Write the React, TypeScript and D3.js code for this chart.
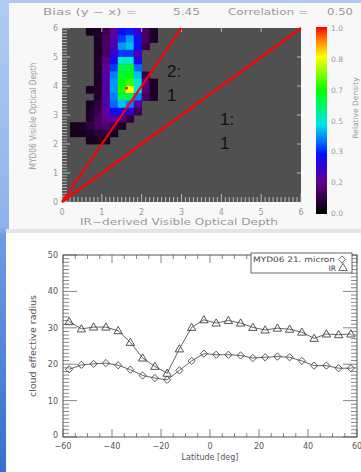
import React from "react";
import * as d3 from "d3";

// ---- top panel: relative density, MYD06 vs IR-derived optical depth ----
// rows run from y = 6 downwards in 0.25 steps, columns from x = 0 in 0.2 steps
const densityRows: number[][] = [
  [0, 0, 0, 0.04, 0.05, 0.1, 0.18, 0.3, 0.33, 0.25, 0.12, 0.05, 0],
  [0, 0, 0, 0, 0.05, 0.12, 0.2, 0.35, 0.42, 0.3, 0.12, 0.05, 0],
  [0, 0, 0, 0, 0.05, 0.12, 0.22, 0.42, 0.45, 0.3, 0.1, 0, 0],
  [0, 0, 0, 0, 0.05, 0.12, 0.25, 0.35, 0.35, 0.22, 0, 0, 0],
  [0, 0, 0, 0, 0.05, 0.15, 0.3, 0.5, 0.5, 0.28, 0, 0, 0],
  [0, 0, 0, 0, 0.05, 0.18, 0.35, 0.6, 0.62, 0.38, 0, 0, 0],
  [0, 0, 0, 0, 0.05, 0.2, 0.4, 0.62, 0.65, 0.45, 0.1, 0, 0],
  [0, 0, 0, 0, 0.05, 0.2, 0.42, 0.65, 0.7, 0.5, 0.15, 0.05, 0],
  [0, 0, 0, 0.04, 0.06, 0.2, 0.42, 0.68, 0.84, 0.5, 0.15, 0.05, 0],
  [0, 0, 0, 0, 0.05, 0.2, 0.4, 0.6, 0.6, 0.4, 0.12, 0.05, 0],
  [0, 0, 0, 0.04, 0.08, 0.2, 0.38, 0.45, 0.4, 0.2, 0, 0, 0],
  [0, 0, 0, 0.05, 0.1, 0.18, 0.3, 0.32, 0.25, 0.1, 0, 0, 0],
  [0, 0, 0, 0.05, 0.12, 0.18, 0.2, 0.15, 0.08, 0, 0, 0, 0],
  [0, 0.04, 0.05, 0.08, 0.12, 0.14, 0.1, 0.05, 0, 0, 0, 0, 0],
  [0, 0.04, 0.04, 0.05, 0.08, 0.08, 0.04, 0, 0, 0, 0, 0, 0],
  [0, 0, 0, 0.04, 0.04, 0.04, 0, 0, 0, 0, 0, 0, 0],
];
const cellW = 0.2;
const cellH = 0.25;
// density maximum (marked in red)
const peak = { x: 1.62, y: 3.93 };

// ratio lines drawn from the origin
const ratioLines = [
  { label: ["2:", "1"], end: [3, 6] },
  { label: ["1:", "1"], end: [6, 6] },
];

const colorStops = [0, 0.08, 0.17, 0.25, 0.32, 0.4, 0.48, 0.56, 0.66, 0.76, 0.84, 0.92, 1];
const colorValues = [
  "#000000", "#2e003e", "#66008c", "#3800d0", "#0010ff", "#0080ff", "#00e4e8",
  "#00f080", "#00ff00", "#90ff00", "#ffff00", "#ff9000", "#ff0000",
];
const colorbarLabels = ["0.0", "0.2", "0.3", "0.5", "0.7", "0.8", "1.0"];

// ---- bottom panel: cloud effective radius vs latitude ----
const latitudes = [
  -57.5, -52.5, -47.5, -42.5, -37.5, -32.5, -27.5, -22.5, -17.5, -12.5, -7.5, -2.5,
  2.5, 7.5, 12.5, 17.5, 22.5, 27.5, 32.5, 37.5, 42.5, 47.5, 52.5, 57.5,
];
const irRadius = [
  31.7, 29.7, 30.2, 30.2, 29.2, 26.0, 21.7, 19.4, 17.5, 24.2, 30.1, 32.2,
  31.3, 32.0, 31.3, 30.1, 29.4, 29.9, 29.6, 28.8, 27.1, 28.3, 28.1, 28.3,
];
const mydRadius = [
  18.6, 19.8, 20.1, 20.3, 19.7, 18.5, 16.9, 16.2, 15.7, 18.3, 20.9, 22.9,
  22.6, 22.6, 22.4, 21.7, 21.9, 22.1, 21.9, 20.9, 19.6, 19.6, 18.9, 18.9,
];

const tri = (x: number, y: number) => `M${x},${y - 4.2}L${x + 4.2},${y + 3}L${x - 4.2},${y + 3}Z`;
const dia = (x: number, y: number) => `M${x},${y - 3.6}L${x + 3.6},${y}L${x},${y + 3.6}L${x - 3.6},${y}Z`;

// piecewise colour lookup over the colour bar stops
const colorOf = (v: number) => {
  const t = Math.max(0, Math.min(1, v));
  let i = 0;
  while (i < colorStops.length - 2 && t > colorStops[i + 1]) i++;
  const f = (t - colorStops[i]) / (colorStops[i + 1] - colorStops[i]);
  return d3.interpolateRgb(colorValues[i], colorValues[i + 1])(f);
};

export default function App() {
  const W = 361;
  const H = 472;
  const font = "'DejaVu Sans', sans-serif";

  const xTop = d3.scaleLinear().domain([0, 6]).range([62, 301]);
  const yTop = d3.scaleLinear().domain([0, 6]).range([202, 28]);
  const cbY = d3.scaleLinear().domain([0, 1]).range([213, 28]);

  const cells = densityRows
    .flatMap((row, r) => row.map((v, c) => ({ r, c, v })))
    .filter((d) => d.v > 0)
    .map((d) => {
      const x0 = xTop(d.c * cellW);
      const x1 = xTop((d.c + 1) * cellW);
      const y0 = yTop(6 - d.r * cellH);
      const y1 = yTop(6 - (d.r + 1) * cellH);
      return { ...d, x: x0, y: y0, w: x1 - x0 + 0.4, h: y1 - y0 + 0.4, fill: colorOf(d.v) };
    });

  const line = d3.line<number[]>().x((d) => xTop(d[0])).y((d) => yTop(d[1]));

  const xBot = d3.scaleLinear().domain([-60, 60]).range([63, 357]);
  const yBot = d3.scaleLinear().domain([0, 50]).range([437, 255]);
  const botLine = d3.line<number>().x((_, i) => xBot(latitudes[i])).y((d) => yBot(d));

  const gray = "#999";
  const dark = "#555";

  return (
    <svg width={W} height={H} style={{ position: "absolute", left: 0, top: 0 }} fontFamily={font}>
      <defs>
        <linearGradient id="strip" x1="0" y1="0" x2="0" y2="1">
          <stop offset="0" stopColor="#b3cbf2" />
          <stop offset="0.48" stopColor="#8fb2ec" />
          <stop offset="0.5" stopColor="#6f9ce4" />
          <stop offset="1" stopColor="#3470cd" />
        </linearGradient>
        <linearGradient id="cbar" x1="0" y1="1" x2="0" y2="0">
          {colorStops.map((s, i) => (
            <stop key={i} offset={s} stopColor={colorValues[i]} />
          ))}
        </linearGradient>
      </defs>

      {/* slide background */}
      <rect x={0} y={0} width={W} height={H} fill="url(#strip)" />
      <rect x={9} y={3} width={W - 9} height={226} fill="#f8f8f8" />
      <rect x={6} y={229} width={W - 6} height={4} fill="#e4e4e4" />
      <rect x={6} y={233} width={W - 6} height={H - 233} fill="#fefefe" />

      {/* top panel */}
      <g fontSize={8.5} fill={gray}>
        <text x={43} y={15} textLength={94} lengthAdjust="spacingAndGlyphs">Bias (y − x) =</text>
        <text x={173} y={15} textLength={27} lengthAdjust="spacingAndGlyphs">5.45</text>
        <text x={228} y={15} textLength={80} lengthAdjust="spacingAndGlyphs">Correlation =</text>
        <text x={327} y={15} textLength={26} lengthAdjust="spacingAndGlyphs">0.50</text>
      </g>
      <rect x={xTop(0)} y={yTop(6)} width={xTop(6) - xTop(0)} height={yTop(0) - yTop(6)} fill="#505050" />
      <g>
        {cells.map((d, i) => (
          <rect key={i} x={d.x} y={d.y} width={d.w} height={d.h} fill={d.fill} />
        ))}
      </g>
      <circle cx={xTop(peak.x)} cy={yTop(peak.y)} r={1.6} fill="#ff2000" />
      {/* top panel ticks */}
      <g stroke="#d4d4d4" strokeWidth={0.8}>
        {d3.range(0, 60.5, 1).map((k) => {
          const v = k / 10;
          const len = k % 10 === 0 ? 8 : 5;
          return (
            <g key={k}>
              <line x1={xTop(0)} x2={xTop(0) + len} y1={yTop(v)} y2={yTop(v)} />
              <line x1={xTop(v)} x2={xTop(v)} y1={yTop(0)} y2={yTop(0) - len} />
            </g>
          );
        })}
        {d3.range(1, 6).map((v) => (
          <g key={v}>
            <line x1={xTop(v)} x2={xTop(v)} y1={yTop(6)} y2={yTop(6) + 4} />
            <line x1={xTop(6)} x2={xTop(6) - 4} y1={yTop(v)} y2={yTop(v)} />
          </g>
        ))}
      </g>
      {ratioLines.map((l, i) => (
        <path key={i} d={line([[0, 0], l.end]) || ""} stroke="#ff0000" strokeWidth={2.2} fill="none" />
      ))}
      <g fontFamily="'Liberation Sans', 'Open Sans', sans-serif" fontSize={17} fill="#111">
        <text x={167} y={77}>{ratioLines[0].label[0]}</text>
        <text x={167} y={101}>{ratioLines[0].label[1]}</text>
        <text x={220} y={125}>{ratioLines[1].label[0]}</text>
        <text x={220} y={149}>{ratioLines[1].label[1]}</text>
      </g>
      <g fontSize={8} fill={gray}>
        {d3.range(0, 7).map((v) => (
          <text key={"x" + v} x={xTop(v)} y={215} textAnchor="middle">{v}</text>
        ))}
        {d3.range(0, 7).map((v) => (
          <text key={"y" + v} x={58} y={yTop(v) + 3} textAnchor="end">{v}</text>
        ))}
      </g>
      <text x={80} y={225} fontSize={8.5} fill={gray} textLength={198} lengthAdjust="spacingAndGlyphs">
        IR−derived Visible Optical Depth
      </text>
      <text
        transform="translate(36,116) rotate(-90)"
        fontSize={8}
        fill={gray}
        textAnchor="middle"
        textLength={107}
        lengthAdjust="spacingAndGlyphs"
      >
        MYD06 Visible Optical Depth
      </text>
      {/* colorbar */}
      <rect x={316} y={cbY(1) - 1} width={11} height={cbY(0) - cbY(1) + 2} fill="url(#cbar)" />
      <g fontSize={7.5} fill={gray}>
        {colorbarLabels.map((t, i) => (
          <text key={t} x={331} y={cbY(i / 6) + 3}>{t}</text>
        ))}
      </g>
      <text transform="translate(358,108) rotate(-90)" fontSize={7.5} fill={gray} textAnchor="middle">
        Relative Density
      </text>

      {/* bottom panel */}
      <rect
        x={xBot(-60)}
        y={yBot(50)}
        width={xBot(60) - xBot(-60)}
        height={yBot(0) - yBot(50)}
        fill="none"
        stroke="#444"
        strokeWidth={0.9}
      />
      <g stroke="#555" strokeWidth={0.7}>
        {d3.range(0, 51, 1).map((v) => {
          const len = v % 10 === 0 ? 14 : 6;
          return (
            <g key={"y" + v}>
              <line x1={xBot(-60)} x2={xBot(-60) + len} y1={yBot(v)} y2={yBot(v)} />
              <line x1={xBot(60)} x2={xBot(60) - len} y1={yBot(v)} y2={yBot(v)} />
            </g>
          );
        })}
        {d3.range(-60, 61, 5).map((v) => {
          const len = v % 20 === 0 ? 8 : 4;
          return (
            <g key={"x" + v}>
              <line x1={xBot(v)} x2={xBot(v)} y1={yBot(0)} y2={yBot(0) - len} />
              <line x1={xBot(v)} x2={xBot(v)} y1={yBot(50)} y2={yBot(50) + len} />
            </g>
          );
        })}
      </g>
      <path d={botLine(irRadius) || ""} fill="none" stroke="#555" strokeWidth={0.9} />
      <path d={botLine(mydRadius) || ""} fill="none" stroke="#555" strokeWidth={0.9} />
      <g fill="none" stroke="#444" strokeWidth={0.9}>
        {irRadius.map((v, i) => (
          <path key={"t" + i} d={tri(xBot(latitudes[i]), yBot(v))} />
        ))}
        {mydRadius.map((v, i) => (
          <path key={"d" + i} d={dia(xBot(latitudes[i]), yBot(v))} />
        ))}
      </g>
      {/* legend */}
      <rect x={251} y={253} width={101} height={20} fill="#fff" stroke="#444" strokeWidth={0.8} />
      <g fontSize={7.5} fill="#444">
        <text x={335} y={262} textAnchor="end" textLength={82} lengthAdjust="spacingAndGlyphs">MYD06 21. micron</text>
        <text x={336} y={270.5} textAnchor="end">IR</text>
      </g>
      <path d={dia(342, 259.5)} fill="none" stroke="#444" strokeWidth={0.8} />
      <path d={tri(343, 267.5)} fill="none" stroke="#444" strokeWidth={0.8} />
      <g fontSize={8} fill={dark}>
        {d3.range(-60, 61, 20).map((v) => (
          <text key={"bx" + v} x={xBot(v)} y={449} textAnchor="middle">
            {v < 0 ? "−" + Math.abs(v) : v}
          </text>
        ))}
        {d3.range(0, 51, 10).map((v) => (
          <text key={"by" + v} x={58} y={yBot(v) + (v === 0 ? 1 : 3)} textAnchor="end">{v}</text>
        ))}
      </g>
      <text x={210} y={460} fontSize={8} fill={dark} textAnchor="middle">Latitude [deg]</text>
      <text
        transform="translate(36,346) rotate(-90)"
        fontSize={8}
        fill={dark}
        textAnchor="middle"
        textLength={102}
        lengthAdjust="spacingAndGlyphs"
      >
        cloud effective radius
      </text>
    </svg>
  );
}
